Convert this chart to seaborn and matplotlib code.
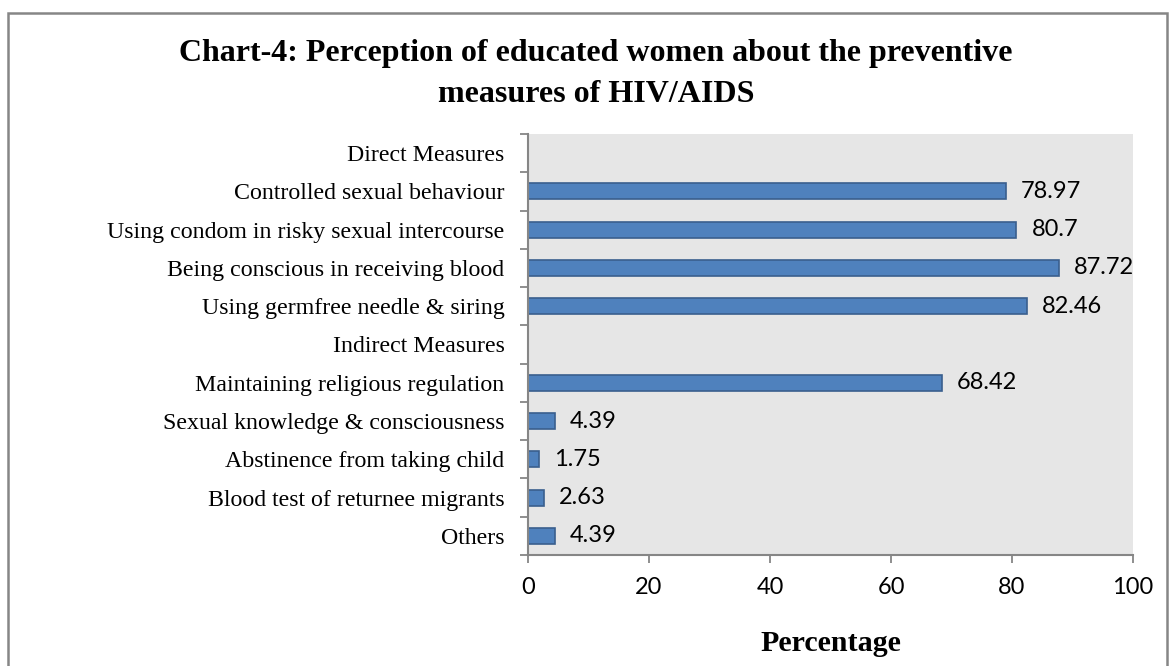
import numpy as np
import pandas as pd
import seaborn as sns
import matplotlib
matplotlib.use("Agg")
import matplotlib.pyplot as plt
from matplotlib.patches import Rectangle

categories = [
    "Direct Measures",
    "Controlled sexual behaviour",
    "Using condom in risky sexual intercourse",
    "Being conscious in receiving blood",
    "Using germfree needle & siring",
    "Indirect Measures",
    "Maintaining religious regulation",
    "Sexual knowledge & consciousness",
    "Abstinence from taking child",
    "Blood test of returnee migrants",
    "Others",
]
values = [np.nan, 78.97, 80.7, 87.72, 82.46, np.nan, 68.42, 4.39, 1.75, 2.63, 4.39]
value_labels = ["", "78.97", "80.7", "87.72", "82.46", "", "68.42", "4.39", "1.75", "2.63", "4.39"]
x_ticks = [0, 20, 40, 60, 80, 100]
title = "Chart-4: Perception of educated women about the preventive\nmeasures of HIV/AIDS"
x_label = "Percentage"

sns.set_theme(style="white")
plt.rcParams['font.family'] = ['Liberation Serif', 'DejaVu Serif']
plt.rcParams['text.color'] = 'black'
plt.rcParams['axes.labelcolor'] = 'black'
plt.rcParams['xtick.labelcolor'] = 'black'
plt.rcParams['ytick.labelcolor'] = 'black'

df = pd.DataFrame({"category": categories, "value": values})

fig = plt.figure(figsize=(11.7, 6.66), dpi=100)
W, H = 1170, 666
ax = fig.add_axes([528 / W, 1 - 555 / H, (1133 - 528) / W, (555 - 134) / H])
ax.set_facecolor("#E6E6E6")

sns.barplot(data=df, y="category", x="value", order=categories, orient="h",
            color="#4F81BD", saturation=1, width=0.42, errorbar=None,
            edgecolor="#3A5F8E", linewidth=1.2, ax=ax)

ax.set_xlim(0, 100)
ax.set_ylim(len(categories) - 0.5, -0.5)
ax.set_xticks(x_ticks)
ax.set_xticklabels([str(t) for t in x_ticks], family="Lato", fontsize=17, color="black")
ax.tick_params(axis="x", length=6, width=1.3, color="#868686", pad=10, direction="out", bottom=True)

ax.set_yticks(range(len(categories)))
ax.set_yticklabels(categories, fontsize=17.2, color="black")
ax.tick_params(axis="y", which="major", length=0, pad=17)
ax.set_yticks(np.arange(-0.5, len(categories), 1), minor=True)
ax.tick_params(axis="y", which="minor", length=6, width=1.3, color="#868686", direction="out", left=True)

for s in ["top", "right"]:
    ax.spines[s].set_visible(False)
for s in ["left", "bottom"]:
    ax.spines[s].set_color("#868686")
    ax.spines[s].set_linewidth(1.5)

ax.set_ylabel("")
ax.set_xlabel(x_label, fontsize=21.6, fontweight="bold", labelpad=23, color="black")

for i, (v, lab) in enumerate(zip(values, value_labels)):
    if lab:
        ax.annotate(lab, xy=(v, i), xytext=(11, 0), textcoords="offset points",
                    va="center", ha="left", family="Lato", fontsize=17, color="black")

fig.text(596 / W, 1 - 74 / H, title, ha="center", va="center", fontsize=23,
         fontweight="bold", linespacing=1.5, color="black")

fig.patches.append(Rectangle((8 / W, -0.05), (1167 - 8) / W, 1.05 - 13 / H,
                             transform=fig.transFigure, fill=False,
                             edgecolor="#868686", linewidth=1.8, clip_on=False))

fig.savefig("out.png", dpi=100, facecolor="white")
